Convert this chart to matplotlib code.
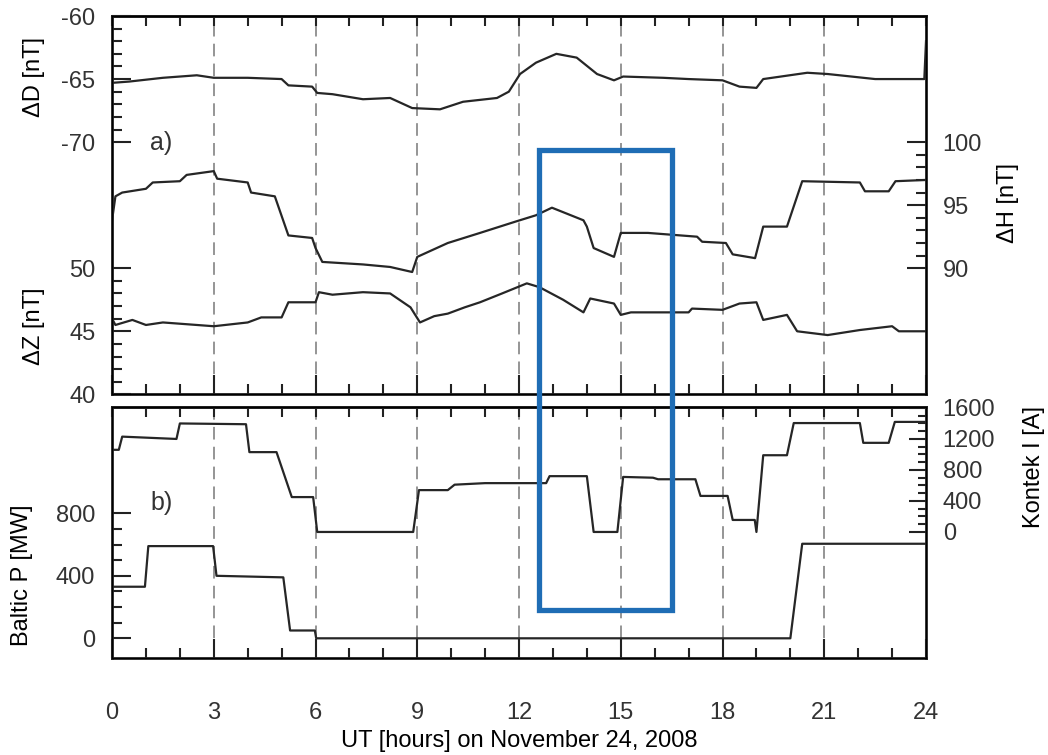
import matplotlib
matplotlib.use('Agg')
import matplotlib.pyplot as plt
from matplotlib.patches import Rectangle
from matplotlib.ticker import FixedLocator

plt.rcParams['font.family'] = ['Liberation Sans', 'DejaVu Sans']
plt.rcParams['font.size'] = 17
plt.rcParams['axes.unicode_minus'] = False
plt.rcParams['text.color'] = '#333333'
plt.rcParams['xtick.color'] = '#222222'
plt.rcParams['ytick.color'] = '#222222'
plt.rcParams['xtick.labelcolor'] = '#333333'
plt.rcParams['ytick.labelcolor'] = '#333333'

# ---- panel a) geomagnetic field variations ----
t_d = [0, 0.5, 1.5, 2.5, 3.0, 4.0, 5.0, 5.2, 5.9, 6.05, 6.5, 7.4, 8.2, 8.85, 9.67,
       10.35, 11.35, 11.7, 12.03, 12.5, 13.1, 13.7, 14.3, 14.8, 15.07, 16.25, 17.0,
       18.0, 18.5, 19.0, 19.2, 20.5, 21.1, 22.5, 23.95, 24.0]
delta_d = [-65.3, -65.2, -64.9, -64.7, -64.9, -64.9, -65.0, -65.5, -65.6, -66.1, -66.2,
           -66.6, -66.5, -67.3, -67.4, -66.8, -66.5, -66.0, -64.6, -63.7, -63.0, -63.3,
           -64.6, -65.1, -64.8, -64.9, -65.0, -65.1, -65.6, -65.7, -65.0, -64.5, -64.6,
           -65.0, -65.0, -62.0]

t_h = [0, 0.1, 0.3, 1.0, 1.2, 2.0, 2.2, 3.0, 3.1, 4.0, 4.1, 4.8, 5.2, 5.9, 6.0, 6.2,
       7.4, 8.2, 8.85, 9.0, 9.9, 10.85, 11.9, 12.5, 12.97, 13.9, 14.0, 14.2, 14.8, 15.0,
       15.8, 17.25, 17.4, 18.1, 18.3, 18.96, 19.2, 19.9, 20.35, 22.05, 22.2, 22.9,
       23.1, 24.0]
delta_h = [93.8, 95.7, 96.0, 96.3, 96.8, 96.9, 97.4, 97.7, 97.1, 96.8, 96.0, 95.7, 92.6,
           92.4, 91.6, 90.5, 90.3, 90.1, 89.7, 90.9, 92.0, 92.8, 93.7, 94.2, 94.8, 93.8,
           93.3, 91.6, 90.9, 92.8, 92.8, 92.5, 92.1, 92.0, 91.1, 90.8, 93.3, 93.3, 96.9,
           96.8, 96.1, 96.1, 96.9, 97.0]

t_z = [0, 0.1, 0.6, 1.0, 1.5, 2.5, 3.0, 4.0, 4.4, 5.0, 5.2, 6.0, 6.1, 6.5, 7.4, 8.2,
       8.8, 9.08, 9.5, 9.9, 10.4, 10.85, 11.5, 12.23, 12.6, 13.3, 13.9, 14.1, 14.8, 15.0,
       15.3, 17.0, 17.1, 18.0, 18.5, 19.0, 19.2, 19.9, 20.2, 21.1, 22.05, 23.0, 23.2, 24.0]
delta_z = [46.0, 45.5, 45.9, 45.5, 45.7, 45.5, 45.4, 45.7, 46.1, 46.1, 47.3, 47.3, 48.1,
           47.9, 48.1, 48.0, 46.9, 45.7, 46.2, 46.4, 46.9, 47.3, 48.0, 48.8, 48.5, 47.5,
           46.5, 47.6, 47.2, 46.3, 46.5, 46.5, 46.8, 46.7, 47.2, 47.3, 45.9, 46.3, 45.0,
           44.7, 45.1, 45.4, 45.0, 45.0]

# ---- panel b) Kontek current and Baltic power ----
t_k = [0, 0.2, 0.3, 1.9, 2.0, 3.95, 4.05, 4.85, 5.3, 5.93, 6.05, 8.88, 9.05, 9.9, 10.1,
       11.0, 12.8, 12.9, 14.0, 14.2, 14.9, 15.07, 15.95, 16.1, 17.2, 17.35, 18.15, 18.3,
       18.95, 19.0, 19.2, 19.9, 20.1, 22.05, 22.15, 22.9, 23.08, 24.0]
kontek_i = [1060, 1060, 1230, 1200, 1400, 1390, 1030, 1030, 450, 450, 0, 0, 540, 540, 610,
            630, 630, 720, 720, 0, 0, 710, 700, 680, 680, 465, 465, 155, 155, 0, 990, 990,
            1405, 1405, 1150, 1150, 1420, 1420]

t_p = [0, 0.97, 1.07, 2.98, 3.08, 5.05, 5.25, 5.98, 6.02, 20.0, 20.35, 24.0]
baltic_p = [330, 330, 590, 590, 400, 390, 50, 50, 0, 0, 605, 605]

grid_hours = [3, 6, 9, 12, 15, 18, 21]
box_hours = (12.6, 16.5)      # highlighted interval
box_top_dh = 99.4             # top edge of box, in ΔH units
box_bottom_p = 180            # bottom edge of box, in Baltic P units

line_kw = dict(color='#262626', lw=1.6)
MAJ, MIN = 14, 7


def style_x(ax, labels):
    ax.set_xlim(0, 24)
    ax.xaxis.set_major_locator(FixedLocator(range(0, 25, 3)))
    ax.xaxis.set_minor_locator(FixedLocator(range(25)))
    ax.tick_params(axis='x', which='major', direction='in', length=MAJ, width=1.5,
                   top=False, labelbottom=labels, pad=32)
    ax.tick_params(axis='x', which='minor', direction='in', length=MIN, width=1.5, top=False)
    top = ax.secondary_xaxis('top')
    top.xaxis.set_major_locator(FixedLocator(range(25)))
    top.tick_params(direction='in', length=MIN, width=1.5, labeltop=False)
    top.spines['top'].set_linewidth(2)
    for s in ax.spines.values():
        s.set_linewidth(2)
        s.set_color('#222222')
    for t in grid_hours:
        ax.axvline(t, color='#8c8c8c', ls=(0, (7, 4)), lw=1.3, zorder=0)


def style_y(ax, major, minor, side, maj=MAJ, mn=MIN):
    ax.yaxis.set_major_locator(FixedLocator(major))
    ax.yaxis.set_minor_locator(FixedLocator(minor))
    ax.tick_params(axis='y', which='both', direction='in', width=1.5, pad=12,
                   left=(side == 'left'), right=(side == 'right'),
                   labelleft=(side == 'left'), labelright=(side == 'right'))
    ax.tick_params(axis='y', which='major', length=maj)
    ax.tick_params(axis='y', which='minor', length=mn)


fig = plt.figure(figsize=(10.48, 7.55), dpi=100)

# ---------------- panel a ----------------
ax_z = fig.add_axes([0.1069, 0.4777, 0.7767, 0.5011])
ax_d = ax_z.twinx()
ax_h = ax_z.twinx()
for ax in (ax_d, ax_h):
    ax.tick_params(axis='x', which='both', bottom=False, top=False, labelbottom=False)

style_x(ax_z, labels=False)
ax_z.set_ylim(40, 70)
ax_d.set_ylim(-90, -60)
ax_h.set_ylim(80, 110)

style_y(ax_z, [40, 45, 50], range(40, 51), 'left')
ax_d.yaxis.tick_left()
style_y(ax_d, [-70, -65, -60], range(-70, -59), 'left')
style_y(ax_h, [90, 95, 100], range(90, 101), 'right')

ax_z.plot(t_z, delta_z, **line_kw)
ax_d.plot(t_d, delta_d, **line_kw)
ax_h.plot(t_h, delta_h, **line_kw)

ax_z.set_ylabel('ΔZ [nT]', fontsize=17)
ax_z.yaxis.set_label_coords(-0.082, 0.18)
ax_d.set_ylabel('ΔD [nT]', fontsize=17)
ax_d.yaxis.set_label_position('left')
ax_d.yaxis.set_label_coords(-0.082, 0.84)
ax_h.set_ylabel('ΔH [nT]', fontsize=17)
ax_h.yaxis.set_label_coords(1.087, 0.506)
ax_z.text(1.12, 59.9, 'a)', fontsize=18, va='center', ha='left')

# ---------------- panel b ----------------
ax_p = fig.add_axes([0.1069, 0.1291, 0.7767, 0.3318])
ax_k = ax_p.twinx()
ax_k.tick_params(axis='x', which='both', bottom=False, top=False, labelbottom=False)

style_x(ax_p, labels=True)
ax_p.set_ylim(-123, 1480)
ax_k.set_ylim(-1620, 1612)
style_y(ax_p, [0, 400, 800], range(0, 801, 100), 'left')
style_y(ax_k, [0, 400, 800, 1200, 1600], range(0, 1601, 100), 'right', maj=12, mn=6)

ax_p.plot(t_p, baltic_p, **line_kw)
ax_k.plot(t_k, kontek_i, **line_kw)

ax_p.set_ylabel('Baltic P [MW]', fontsize=17)
ax_p.yaxis.set_label_coords(-0.097, 0.33)
ax_k.set_ylabel('Kontek I [A]', fontsize=17)
ax_k.yaxis.set_label_coords(1.119, 0.76)
ax_p.text(1.12, 866, 'b)', fontsize=18, va='center', ha='left')
ax_p.set_xlabel('UT [hours] on November 24, 2008', fontsize=17, labelpad=4)

# ---------------- highlight box spanning both panels ----------------
to_fig = fig.transFigure.inverted()
x0, y1 = to_fig.transform(ax_h.transData.transform((box_hours[0], box_top_dh)))
x1, y0 = to_fig.transform(ax_p.transData.transform((box_hours[1], box_bottom_p)))
fig.add_artist(Rectangle((x0, y0), x1 - x0, y1 - y0, transform=fig.transFigure,
                         fill=False, edgecolor='#1f6db5', lw=3.8, zorder=10))

fig.savefig('out.png', dpi=100, facecolor='white')
